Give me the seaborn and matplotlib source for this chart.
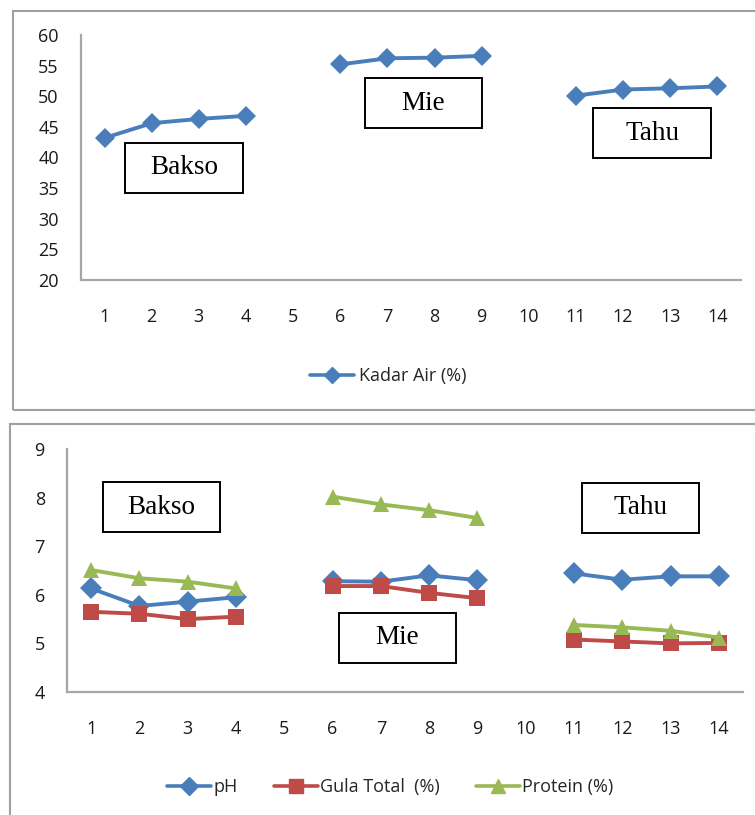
import numpy as np
import pandas as pd
import matplotlib
matplotlib.use('Agg')
import matplotlib.pyplot as plt
from matplotlib.patches import Rectangle
import seaborn as sns

sns.set_theme(style='white')
plt.rcParams['font.family'] = ['Open Sans', 'DejaVu Sans']

#~~~~~~~~~~~~~~~~~~~~~~~~~~~~~~~~~~~~~~~~~~#
### Data.
#~~~~~~~~~~~~~~~~~~~~~~~~~~~~~~~~~~~~~~~~~~#

## Sample positions (5 and 10 are empty separators).
samples = [1, 2, 3, 4, 6, 7, 8, 9, 11, 12, 13, 14]
groups = ['Bakso'] * 4 + ['Mie'] * 4 + ['Tahu'] * 4
xticks = list(range(1, 15))

## Top panel.
kadar_air = [43.2, 45.6, 46.3, 46.8, 55.2, 56.2, 56.3, 56.6, 50.1, 51.1, 51.3, 51.6]

## Bottom panel.
ph = [6.13, 5.77, 5.86, 5.95, 6.28, 6.27, 6.40, 6.30, 6.44, 6.31, 6.38, 6.38]
gula_total = [5.65, 5.61, 5.50, 5.55, 6.18, 6.18, 6.04, 5.93, 5.08, 5.04, 5.00, 5.01]
protein = [6.51, 6.34, 6.27, 6.13, 8.02, 7.86, 7.74, 7.58, 5.38, 5.33, 5.26, 5.12]

#~~~~~~~~~~~~~~~~~~~~~~~~~~~~~~~~~~~~~~~~~~#
### Styles.
#~~~~~~~~~~~~~~~~~~~~~~~~~~~~~~~~~~~~~~~~~~#

blue, red, green = '#4a7ebb', '#be4b48', '#98b954'
spinecolor = '#a6a6a6'
textsize = 13
W, H = 755, 815

def fx(px): return px / W
def fy(py): return 1 - py / H

fig = plt.figure(figsize=(W / 100, H / 100), dpi=100)

## Panel borders.
for x0, y0, x1, y1 in [(13, 11, 760, 410), (10, 424, 760, 830)]:
    fig.patches.append(Rectangle((fx(x0), fy(y1)), fx(x1) - fx(x0), fy(y0) - fy(y1),
                                 transform=fig.transFigure, fill=False,
                                 edgecolor='#a0a0a0', lw=1.5, zorder=0))

def style_axis(ax, ylim, yticks):
    ax.set(xlim=(0.5, 14.5), ylim=ylim, xlabel='', ylabel='')
    ax.set_xticks(xticks)
    ax.set_xticklabels(xticks, fontsize=textsize, color='#1a1a1a')
    ax.set_yticks(yticks)
    ax.set_yticklabels(yticks, fontsize=textsize, color='#1a1a1a')
    ax.tick_params(axis='x', length=0, pad=20)
    ax.tick_params(axis='y', length=0, pad=16)
    sns.despine(ax=ax)
    for s in ['left', 'bottom']:
        ax.spines[s].set(color=spinecolor, linewidth=1.6)

def add_box(label, x0, y0, x1, y1):
    fig.patches.append(Rectangle((fx(x0), fy(y1)), fx(x1) - fx(x0), fy(y0) - fy(y1),
                                 transform=fig.transFigure, fill=True, facecolor='white',
                                 edgecolor='black', lw=1.4, zorder=5))
    fig.text(fx((x0 + x1) / 2), fy((y0 + y1) / 2), label, ha='center', va='center',
             fontsize=19.5, family='Liberation Serif', color='black', zorder=6)

#~~~~~~~~~~~~~~~~~~~~~~~~~~~~~~~~~~~~~~~~~~#
### Top panel: Kadar Air.
#~~~~~~~~~~~~~~~~~~~~~~~~~~~~~~~~~~~~~~~~~~#

ax1 = fig.add_axes([fx(81), fy(280), fx(741) - fx(81), fy(35) - fy(280)])
df1 = pd.DataFrame({'x': samples, 'value': kadar_air, 'group': groups,
                    'series': 'Kadar Air (%)'})
sns.lineplot(data=df1, x='x', y='value', hue='series', style='series', units='group',
             estimator=None, palette=[blue], markers={'Kadar Air (%)': 'D'}, dashes=False,
             lw=2.8, markersize=10, markeredgewidth=0, legend=False, ax=ax1)
style_axis(ax1, (20, 60), list(range(20, 61, 5)))
ax1.plot([], [], color=blue, marker='D', markersize=8, lw=2.6, label='Kadar Air (%)')
ax1.legend(loc='center', bbox_to_anchor=(fx(388), fy(376)), bbox_transform=fig.transFigure,
           frameon=False, fontsize=textsize, handlelength=2.45, handletextpad=0.25, borderpad=0)

add_box('Bakso', 125, 143, 243, 193)
add_box('Mie', 365, 78, 482, 128)
add_box('Tahu', 593, 108, 711, 158)

#~~~~~~~~~~~~~~~~~~~~~~~~~~~~~~~~~~~~~~~~~~#
### Bottom panel: pH, Gula Total, Protein.
#~~~~~~~~~~~~~~~~~~~~~~~~~~~~~~~~~~~~~~~~~~#

ax2 = fig.add_axes([fx(67), fy(692), fx(743) - fx(67), fy(449) - fy(692)])
names = ['pH', 'Gula Total  (%)', 'Protein (%)']
df2 = pd.concat([pd.DataFrame({'x': samples, 'value': vals, 'group': groups, 'series': name})
                 for name, vals in zip(names, [ph, gula_total, protein])])
sns.lineplot(data=df2, x='x', y='value', hue='series', style='series', units='group',
             estimator=None, hue_order=names, style_order=names,
             palette=[blue, red, green], markers=dict(zip(names, ['D', 's', '^'])),
             dashes=False, lw=2.8, markersize=11.5, markeredgewidth=0, legend=False, ax=ax2)
style_axis(ax2, (4, 9), list(range(4, 10)))
for name, c, m in zip(names, [blue, red, green], ['D', 's', '^']):
    ax2.plot([], [], color=c, marker=m, markersize=9.5, lw=2.6, label=name)
ax2.legend(loc='center', bbox_to_anchor=(fx(390), fy(787)), bbox_transform=fig.transFigure,
           ncol=3, frameon=False, fontsize=textsize, handlelength=2.45, handletextpad=0.1,
           columnspacing=2.0, borderpad=0)

add_box('Bakso', 103, 482, 220, 532)
add_box('Mie', 339, 613, 456, 663)
add_box('Tahu', 582, 483, 699, 533)

plt.savefig('out.png', dpi=100)
